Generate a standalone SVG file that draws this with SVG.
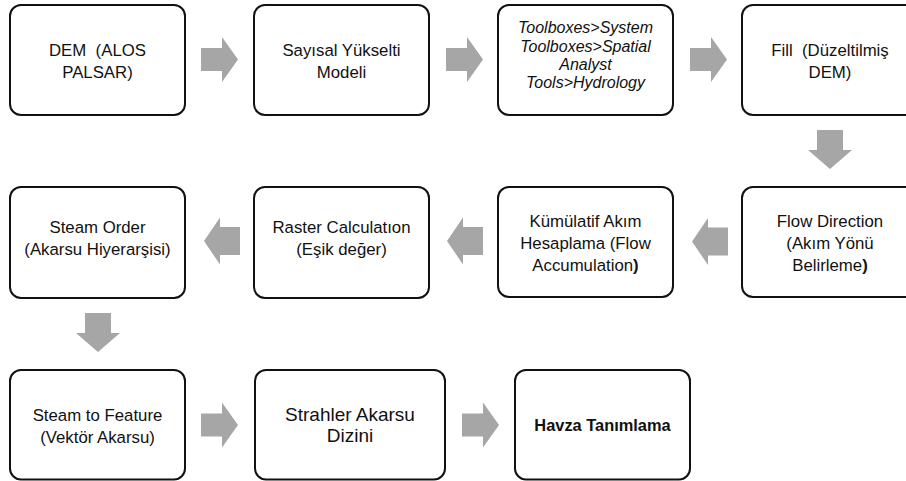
<svg xmlns="http://www.w3.org/2000/svg" width="906" height="481" viewBox="0 0 906 481">
<style>
.box{fill:#fff;stroke:#111;stroke-width:2}
.t{font-family:"Liberation Sans",Arial,sans-serif;font-size:16.8px;fill:#111;text-anchor:middle;white-space:pre}
.it{font-style:italic;font-size:16px}
.big{font-size:19px}
.b{font-weight:bold;font-size:16.4px}
.arr{fill:#a6a6a6}
</style>
<defs>
<path id="ar" d="M0,-11.5 H21 V-22.5 L37,0 L21,22.5 V11.5 H0 Z"/>
<path id="al" d="M0,-14 H-20 V-23.5 L-36,0 L-20,23.5 V14 H0 Z"/>
<path id="ad" d="M-13,0 V20 H-22 L0,39 L22,20 H13 V0 Z"/>
</defs>
<rect width="906" height="481" fill="#fff"/>
<g id="connectors" class="arr">
<use href="#ar" x="201" y="59.5"/>
<use href="#ar" x="446" y="59.5"/>
<use href="#ar" x="690" y="59.5"/>
<use href="#ad" x="830" y="130"/>
<use href="#al" x="728" y="241.5"/>
<use href="#al" x="483" y="241"/>
<use href="#al" x="240" y="241"/>
<use href="#ad" x="98" y="313"/>
<use href="#ar" x="201" y="425"/>
<use href="#ar" x="462" y="425"/>
</g>
<g id="n1"><rect class="box" x="10" y="5" width="175" height="110" rx="11"/>
<text class="t" x="97.5" y="56">DEM  (ALOS</text><text class="t" x="97.5" y="78">PALSAR)</text></g>
<g id="n2"><rect class="box" x="254" y="5" width="175" height="110" rx="11"/>
<text class="t" x="341.5" y="56">Sayısal Yükselti</text><text class="t" x="341.5" y="78">Modeli</text></g>
<g id="n3"><rect class="box" x="498" y="5" width="175" height="110" rx="11"/>
<text class="t it" x="585.5" y="33">Toolboxes&gt;System</text><text class="t it" x="585.5" y="52">Toolboxes&gt;Spatial</text><text class="t it" x="585.5" y="70">Analyst</text><text class="t it" x="585.5" y="88">Tools&gt;Hydrology</text></g>
<g id="n4"><rect class="box" x="742" y="5" width="178" height="110" rx="11"/>
<text class="t" x="830" y="56">Fill  (Düzeltilmiş</text><text class="t" x="830" y="78">DEM)</text></g>
<g id="n5"><rect class="box" x="742" y="187" width="178" height="110" rx="11"/>
<text class="t" x="830" y="227">Flow Direction</text><text class="t" x="830" y="249">(Akım Yönü</text><text class="t" x="830" y="271">Belirleme<tspan font-weight="bold">)</tspan></text></g>
<g id="n6"><rect class="box" x="498" y="187" width="175" height="110" rx="11"/>
<text class="t" x="585.5" y="227">Kümülatif Akım</text><text class="t" x="585.5" y="249">Hesaplama (Flow</text><text class="t" x="585.5" y="271">Accumulation<tspan font-weight="bold">)</tspan></text></g>
<g id="n7"><rect class="box" x="254" y="187" width="175" height="111" rx="11"/>
<text class="t" x="341.5" y="233">Raster Calculatıon</text><text class="t" x="341.5" y="255">(Eşik değer)</text></g>
<g id="n8"><rect class="box" x="10" y="187" width="175" height="111" rx="11"/>
<text class="t" x="97.5" y="233">Steam Order</text><text class="t" x="97.5" y="255">(Akarsu Hiyerarşisi)</text></g>
<g id="n9"><rect class="box" x="10" y="370" width="175" height="109.5" rx="11"/>
<text class="t" x="97.5" y="421">Steam to Feature</text><text class="t" x="97.5" y="443">(Vektör Akarsu)</text></g>
<g id="n10"><rect class="box" x="255" y="370" width="190" height="109.5" rx="11"/>
<text class="t big" x="350" y="421">Strahler Akarsu</text><text class="t big" x="350" y="442">Dizini</text></g>
<g id="n11"><rect class="box" x="515" y="370" width="175" height="109.5" rx="11"/>
<text class="t b" x="602.5" y="431">Havza Tanımlama</text></g>
</svg>
